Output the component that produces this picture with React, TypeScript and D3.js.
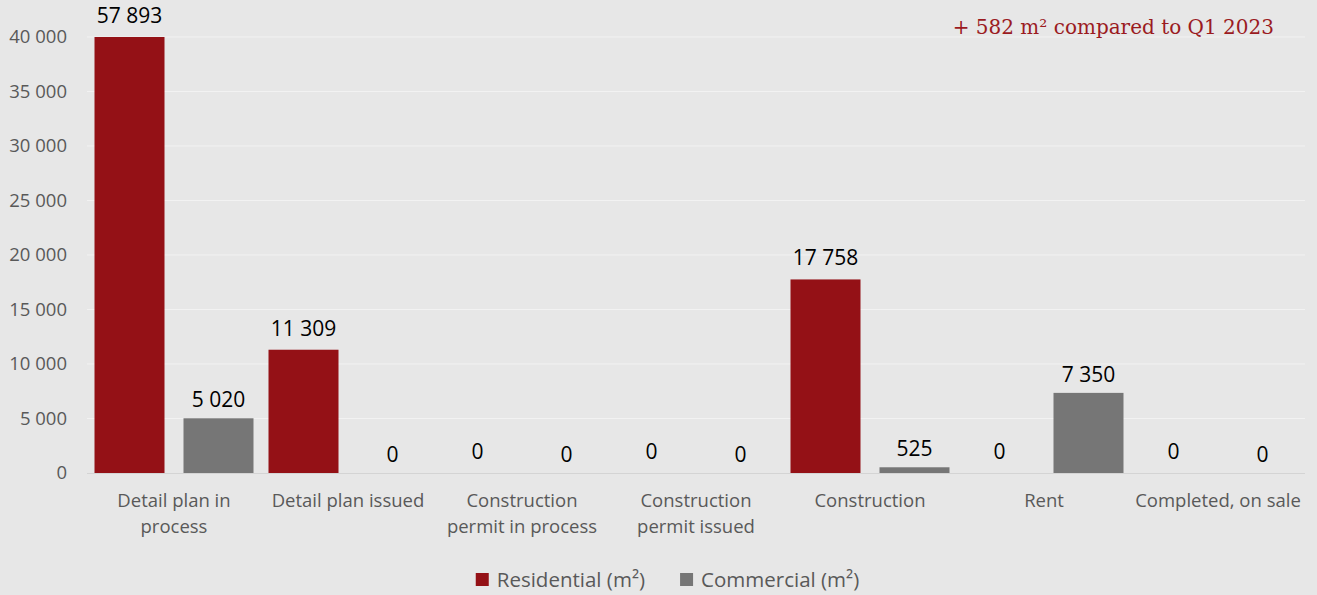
import React, { useEffect, useRef } from "react";
import * as d3 from "d3";

const categories: string[][] = [
  ["Detail plan in", "process"],
  ["Detail plan issued"],
  ["Construction", "permit in process"],
  ["Construction", "permit issued"],
  ["Construction"],
  ["Rent"],
  ["Completed, on sale"],
];
const residential: number[] = [57893, 11309, 0, 0, 17758, 0, 0];
const commercial: number[] = [5020, 0, 0, 0, 525, 7350, 0];
const yTicks: number[] = [0, 5000, 10000, 15000, 20000, 25000, 30000, 35000, 40000];
const seriesNames: string[] = ["Residential (m²)", "Commercial (m²)"];
const annotation = "+ 582 m² compared to Q1 2023";

const W = 1317;
const H = 595;
const RED = "#941116";
const GRAY = "#767676";
const BG = "#e7e7e7";
const TXT = "#595959";
const SANS = "'Open Sans', sans-serif";

const fmt = (v: number) => d3.format(",")(v).replace(/,/g, " ");

export default function App() {
  const ref = useRef<SVGSVGElement | null>(null);

  useEffect(() => {
    document.body.style.margin = "0";
    const svg = d3.select(ref.current!);
    svg.selectAll("*").remove();

    svg.append("rect").attr("width", W).attr("height", H).attr("fill", BG);

    const x = d3
      .scaleBand<number>()
      .domain(categories.map((_, i) => i))
      .range([87, 1305]);
    const inner = d3
      .scaleBand<string>()
      .domain(["res", "com"])
      .range([0, x.bandwidth()])
      .paddingInner(0.2135)
      .paddingOuter(0.0843);
    const y = d3.scaleLinear().domain([0, 40000]).range([473, 37]);

    // gridlines
    svg
      .append("g")
      .selectAll("line")
      .data(yTicks.filter((t) => t > 0))
      .join("line")
      .attr("x1", 87)
      .attr("x2", 1305)
      .attr("y1", (d) => y(d))
      .attr("y2", (d) => y(d))
      .attr("stroke", "#f2f2f2")
      .attr("stroke-width", 1);
    svg
      .append("line")
      .attr("x1", 87)
      .attr("x2", 1305)
      .attr("y1", y(0) + 0.5)
      .attr("y2", y(0) + 0.5)
      .attr("stroke", "#d4d4d4")
      .attr("stroke-width", 1.2);

    // y tick labels
    svg
      .append("g")
      .selectAll("text")
      .data(yTicks)
      .join("text")
      .attr("x", 67)
      .attr("y", (d) => y(d))
      .attr("dy", "0.35em")
      .attr("text-anchor", "end")
      .attr("font-family", SANS)
      .attr("font-size", 18.5)
      .attr("fill", TXT)
      .text((d) => fmt(d));

    const series = [
      { key: "res", values: residential, color: RED, off: 14 },
      { key: "com", values: commercial, color: GRAY, off: 11 },
    ];

    series.forEach((s) => {
      const g = svg.append("g");
      g.selectAll("rect")
        .data(s.values.map((v, i) => ({ v, i })))
        .join("rect")
        .attr("x", (d) => x(d.i)! + inner(s.key)!)
        .attr("width", inner.bandwidth())
        .attr("y", (d) => y(Math.min(d.v, 40000)))
        .attr("height", (d) => y(0) - y(Math.min(d.v, 40000)))
        .attr("fill", s.color);
      g.selectAll("text")
        .data(s.values.map((v, i) => ({ v, i })))
        .join("text")
        .attr("x", (d) => x(d.i)! + inner(s.key)! + inner.bandwidth() / 2)
        .attr("y", (d) => y(Math.min(d.v, 40000)) - s.off)
        .attr("text-anchor", "middle")
        .attr("font-family", SANS)
        .attr("font-size", 21)
        .attr("fill", "#000")
        .text((d) => fmt(d.v));
    });

    // category labels
    const cg = svg.append("g");
    categories.forEach((lines, i) => {
      const t = cg
        .append("text")
        .attr("x", x(i)! + x.bandwidth() / 2)
        .attr("y", 507)
        .attr("text-anchor", "middle")
        .attr("font-family", SANS)
        .attr("font-size", 18.5)
        .attr("fill", TXT);
      lines.forEach((l, j) => {
        t.append("tspan")
          .attr("x", x(i)! + x.bandwidth() / 2)
          .attr("dy", j === 0 ? 0 : 26)
          .text(l);
      });
    });

    // legend
    const lg = svg.append("g");
    const colors = [RED, GRAY];
    const items = seriesNames.map((name, i) => {
      const g = lg.append("g");
      g.append("rect").attr("x", 0).attr("y", -6.5).attr("width", 13).attr("height", 13).attr("fill", colors[i]);
      const t = g
        .append("text")
        .attr("x", 21)
        .attr("y", 0)
        .attr("dy", "0.35em")
        .attr("font-family", SANS)
        .attr("font-size", 20.5)
        .attr("fill", TXT)
        .text(name);
      const w = 21 + (t.node() as SVGTextElement).getComputedTextLength();
      return { g, w };
    });
    const gap = 35;
    const total = items.reduce((a, b) => a + b.w, 0) + gap * (items.length - 1);
    let cx = 667.5 - total / 2;
    items.forEach((it) => {
      it.g.attr("transform", `translate(${cx},579.5)`);
      cx += it.w + gap;
    });

    // annotation
    svg
      .append("text")
      .attr("x", 1274)
      .attr("y", 34)
      .attr("text-anchor", "end")
      .attr("font-family", "'DejaVu Serif', serif")
      .attr("font-size", 20)
      .attr("fill", "#9b1b1f")
      .text(annotation);
  }, []);

  return <svg ref={ref} width={W} height={H} style={{ display: "block" }} />;
}
